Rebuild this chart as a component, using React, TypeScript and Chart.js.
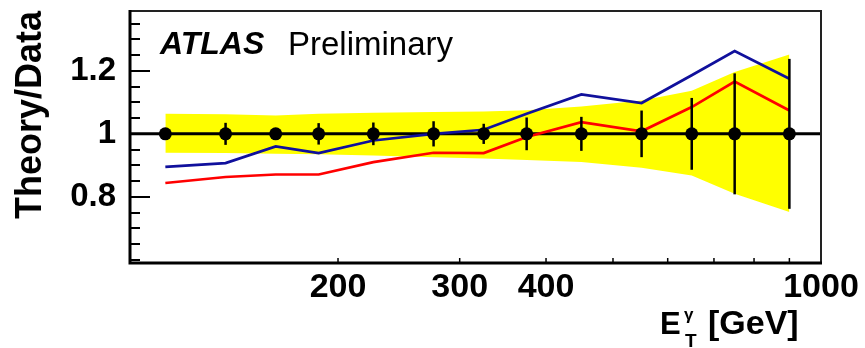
import React, { useEffect, useRef } from 'react';
import { Chart, registerables } from 'chart.js';

Chart.register(...registerables);

// ---- data ----
const etCenters = [112.5, 137.5, 162.5, 187.5, 225, 275, 325, 375, 450, 550, 650, 750, 900];
const dataRatio = [1, 1, 1, 1, 1, 1, 1, 1, 1, 1, 1, 1, 1];
const dataErr = [0.012, 0.035, 0.015, 0.034, 0.036, 0.04, 0.032, 0.052, 0.054, 0.074, 0.114, 0.192, 0.238];
const theoryBlue = [0.895, 0.907, 0.96, 0.939, 0.979, 1.0, 1.013, 1.064, 1.125, 1.098, 1.186, 1.263, 1.175];
const theoryRed = [0.844, 0.863, 0.871, 0.871, 0.91, 0.94, 0.939, 0.99, 1.037, 1.008, 1.085, 1.166, 1.074];
const bandUpper = [1.064, 1.062, 1.058, 1.064, 1.067, 1.069, 1.071, 1.075, 1.087, 1.106, 1.137, 1.196, 1.252];
const bandLower = [0.94, 0.939, 0.937, 0.935, 0.931, 0.926, 0.922, 0.917, 0.911, 0.892, 0.868, 0.81, 0.752];

const xTickValues = [200, 300, 400, 1000];
const xTickLabels = ['200', '300', '400', '1000'];
const xMinorTicks = [200, 300, 400, 500, 600, 700, 800, 900];
const yTickValues = [0.8, 1, 1.2];
const yTickLabels = ['0.8', '1', '1.2'];
const yMinorTicks = [0.6, 0.65, 0.7, 0.75, 0.85, 0.9, 0.95, 1.05, 1.1, 1.15, 1.25, 1.3, 1.35];

const FONT = '"Liberation Sans", Arial, Helvetica, sans-serif';

const pts = (ys: number[]) => etCenters.map((x, i) => ({ x, y: ys[i] }));

const decorPlugin = {
  id: 'decor',
  afterDatasetDraw(chart: any, args: any) {
    if (args.index !== 4) return;
    const { ctx, chartArea: a, scales } = chart;
    const py = scales.y.getPixelForValue(1);
    ctx.save();
    ctx.strokeStyle = '#000';
    ctx.lineWidth = 3;
    ctx.beginPath();
    ctx.moveTo(a.left, py);
    ctx.lineTo(a.right, py);
    ctx.stroke();
    ctx.restore();
  },
  afterDatasetsDraw(chart: any) {
    const { ctx, scales } = chart;
    ctx.save();
    ctx.strokeStyle = '#000';
    ctx.lineWidth = 2.5;
    etCenters.forEach((x, i) => {
      const px = scales.x.getPixelForValue(x);
      const y1 = scales.y.getPixelForValue(dataRatio[i] + dataErr[i]);
      const y2 = scales.y.getPixelForValue(dataRatio[i] - dataErr[i]);
      ctx.beginPath();
      ctx.moveTo(px, y1);
      ctx.lineTo(px, y2);
      ctx.stroke();
    });
    ctx.restore();
  },
  afterDraw(chart: any) {
    const { ctx, chartArea: a, scales } = chart;
    ctx.save();
    // ticks (inside)
    ctx.strokeStyle = '#000';
    ctx.lineWidth = 2;
    yTickValues.forEach((v) => {
      const py = Math.round(scales.y.getPixelForValue(v));
      ctx.beginPath();
      ctx.moveTo(a.left, py);
      ctx.lineTo(a.left + 20, py);
      ctx.stroke();
    });
    yMinorTicks.forEach((v) => {
      const py = Math.round(scales.y.getPixelForValue(v));
      ctx.beginPath();
      ctx.moveTo(a.left, py);
      ctx.lineTo(a.left + 10, py);
      ctx.stroke();
    });
    ctx.lineWidth = 1.5;
    xMinorTicks.forEach((v) => {
      const px = scales.x.getPixelForValue(v);
      ctx.beginPath();
      ctx.moveTo(px, a.bottom);
      ctx.lineTo(px, a.bottom - 5);
      ctx.stroke();
    });
    // frame
    ctx.lineWidth = 2;
    ctx.strokeStyle = '#222';
    ctx.beginPath();
    ctx.moveTo(a.left, a.top);
    ctx.lineTo(a.right, a.top);
    ctx.lineTo(a.right, a.bottom);
    ctx.stroke();
    ctx.lineWidth = 3;
    ctx.strokeStyle = '#000';
    ctx.beginPath();
    ctx.moveTo(a.left, a.top - 1);
    ctx.lineTo(a.left, a.bottom);
    ctx.lineTo(a.right + 1, a.bottom);
    ctx.stroke();

    // labels
    ctx.fillStyle = '#000';
    ctx.textBaseline = 'alphabetic';
    ctx.textAlign = 'left';
    ctx.font = `italic bold 32px ${FONT}`;
    ctx.fillText('ATLAS', a.left + 30, 54);
    ctx.font = `33px ${FONT}`;
    ctx.fillText('Preliminary', a.left + 158, 55);

    // x axis title: E_T^gamma [GeV]
    const x0 = a.right - 161;
    ctx.font = `bold 31px ${FONT}`;
    ctx.fillText('E', x0, 334);
    ctx.font = `bold 19px ${FONT}`;
    ctx.fillText('T', x0 + 25, 347);
    ctx.font = `bold 17px ${FONT}`;
    ctx.fillText('\u03B3', x0 + 24, 320);
    ctx.font = `bold 34px ${FONT}`;
    ctx.fillText('[GeV]', x0 + 48, 334);
    ctx.restore();
  },
};

export default function App() {
  const ref = useRef<HTMLCanvasElement | null>(null);
  useEffect(() => {
    if (!ref.current) return;
    const chart = new Chart(ref.current, {
      type: 'line',
      data: {
        datasets: [
          {
            label: 'Data',
            data: pts(dataRatio),
            showLine: false,
            pointRadius: 6.5,
            pointBackgroundColor: '#000',
            pointBorderColor: '#000',
            pointBorderWidth: 0,
            order: 1,
          },
          {
            label: 'Theory (blue)',
            data: pts(theoryBlue),
            borderColor: '#10109c',
            borderWidth: 2.7,
            pointRadius: 0,
            fill: false,
            order: 2,
          },
          {
            label: 'Theory (red)',
            data: pts(theoryRed),
            borderColor: '#ff0000',
            borderWidth: 2.7,
            pointRadius: 0,
            fill: false,
            order: 3,
          },
          {
            label: 'Band upper',
            data: pts(bandUpper),
            borderWidth: 0,
            borderColor: 'rgba(0,0,0,0)',
            pointRadius: 0,
            backgroundColor: '#ffff00',
            fill: '+1',
            order: 5,
          },
          {
            label: 'Band lower',
            data: pts(bandLower),
            borderWidth: 0,
            borderColor: 'rgba(0,0,0,0)',
            pointRadius: 0,
            fill: false,
            order: 4,
          },
        ],
      },
      options: {
        animation: false,
        responsive: true,
        maintainAspectRatio: false,
        events: [],
        layout: { padding: { left: 0, top: 11, right: 44, bottom: 0 } },
        plugins: { legend: { display: false }, tooltip: { enabled: false } },
        scales: {
          x: {
            type: 'logarithmic',
            min: 100,
            max: 1000,
            grid: { display: false },
            border: { display: false },
            afterBuildTicks: (s: any) => {
              s.ticks = xTickValues.map((v) => ({ value: v }));
            },
            afterFit: (s: any) => {
              s.height = 85;
              s.paddingLeft = 0;
              s.paddingRight = 0;
            },
            ticks: {
              autoSkip: false,
              maxRotation: 0,
              minRotation: 0,
              padding: 0,
              color: '#000',
              font: { family: FONT, size: 34, weight: 'bold', lineHeight: 1 },
              callback: (_v: any, i: number) => xTickLabels[i],
            },
          },
          y: {
            type: 'linear',
            min: 0.59,
            max: 1.39,
            grid: { display: false },
            border: { display: false },
            afterBuildTicks: (s: any) => {
              s.ticks = yTickValues.map((v) => ({ value: v }));
            },
            afterFit: (s: any) => {
              s.width = 130;
              s.paddingTop = 0;
              s.paddingBottom = 0;
            },
            ticks: {
              padding: 6,
              color: '#000',
              font: { family: FONT, size: 33, weight: 'bold' },
              callback: (_v: any, i: number) => yTickLabels[i],
            },
            title: {
              display: true,
              text: 'Theory/Data',
              align: 'end',
              color: '#000',
              font: { family: FONT, size: 36, weight: 'bold', lineHeight: 1.2 },
              padding: { top: 9, bottom: 0 },
            },
          },
        },
      },
      plugins: [decorPlugin],
    } as any);
    return () => chart.destroy();
  }, []);
  return (
    <div style={{ position: 'fixed', left: 0, top: 0, width: 865, height: 348, background: '#fff' }}>
      <canvas ref={ref} />
    </div>
  );
}
